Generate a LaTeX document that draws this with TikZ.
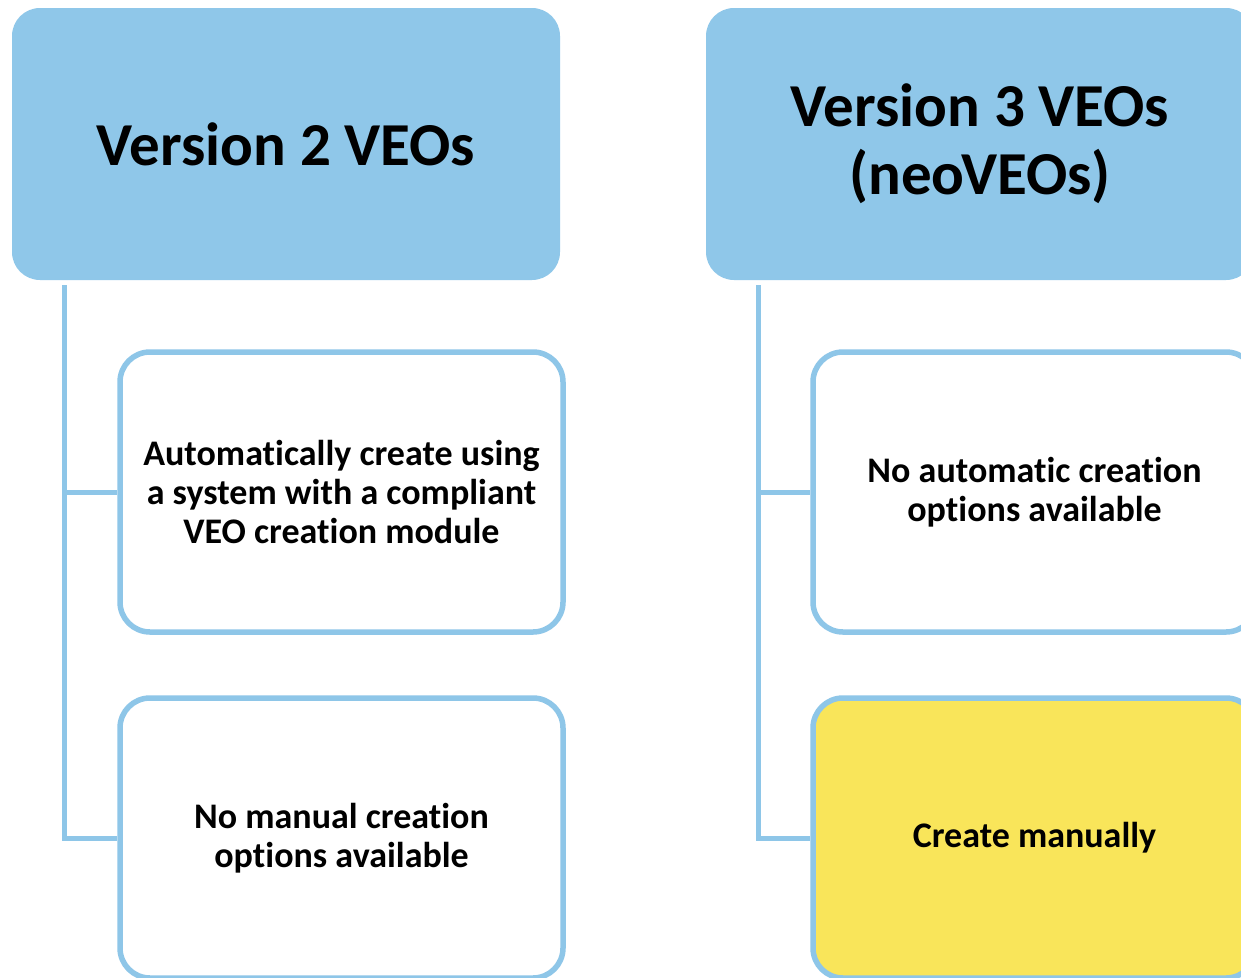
\documentclass[tikz,border=0pt]{standalone}
\usepackage{fontspec}
\setmainfont{Carlito}[Ligatures={NoCommon,NoContextual},RawFeature={-liga;-clig;-calt;-dlig}]
\definecolor{hdrblue}{HTML}{8FC7E9}
\definecolor{lineblue}{HTML}{8EC6E8}
\definecolor{boxyellow}{HTML}{F9E55A}
\begin{document}
\begin{tikzpicture}[x=1pt,y=-1pt,
  header/.style={fill=hdrblue, draw=none, rounded corners=28pt, minimum width=548pt, minimum height=272pt,
    align=center, font=\fontsize{61}{68}\selectfont\bfseries, inner sep=0pt},
  child/.style={fill=white, draw=lineblue, line width=5.5pt, rounded corners=30pt, minimum width=443pt, minimum height=280pt,
    align=center, font=\fontsize{36}{39}\selectfont\bfseries, inner sep=0pt},
  conn/.style={draw=lineblue, line width=5pt}]
\useasboundingbox (0,0) rectangle (1241,977);
\clip (0,0) rectangle (1241,977);
\fill[white] (0,0) rectangle (1241,977);
\coordinate (v1) at (64,285);
\coordinate (v2) at (758,285);
\node[header] (h1) at (286,144) {Version 2 VEOs};
\node[header] (h2) at (980,144) {Version 3 VEOs\\(neoVEOs)};
\node[child] (c11) at (341.5,492) {Automatically create using\\a system with a compliant\\VEO creation module};
\node[child] (c12) at (341.5,838) {No manual creation\\options available};
\node[child] (c21) at (1034.5,492) {No automatic creation\\options available};
\node[child, fill=boxyellow] (c22) at (1034.5,838) {Create manually};
\draw[conn] (v1) |- (c12.west);
\draw[conn] (v1 |- c11.west) -- (c11.west);
\draw[conn] (v2) |- (c22.west);
\draw[conn] (v2 |- c21.west) -- (c21.west);
\end{tikzpicture}
\end{document}
